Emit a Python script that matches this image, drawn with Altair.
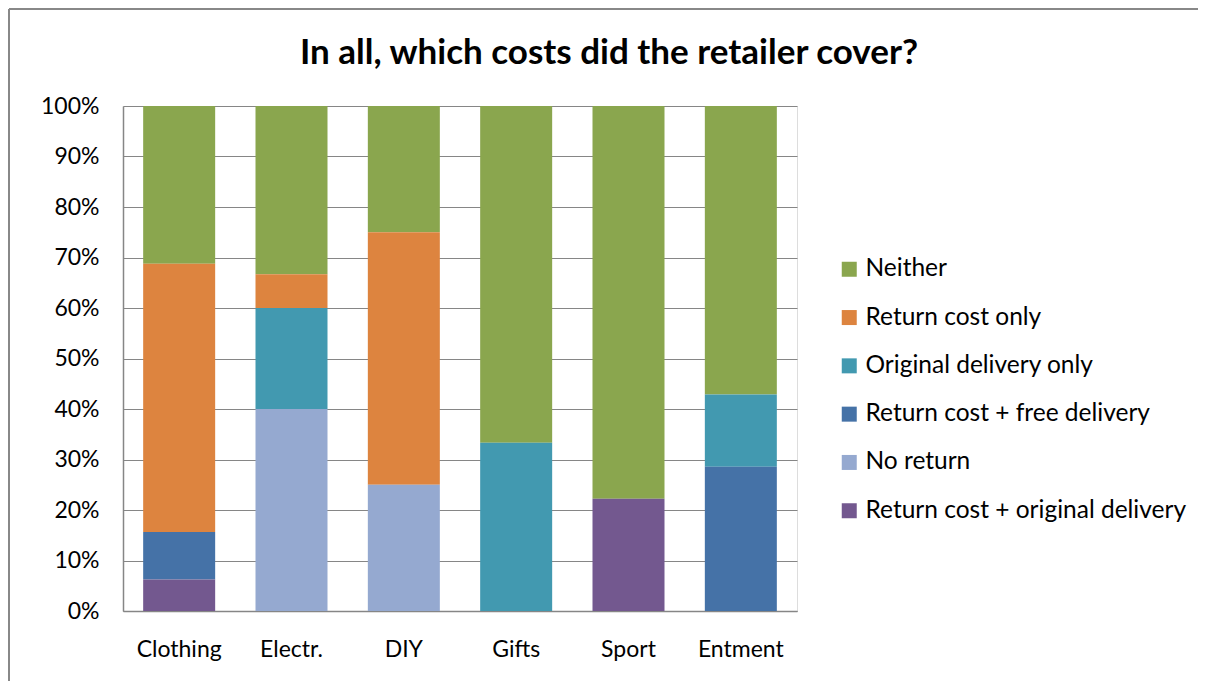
import altair as alt
import pandas as pd

categories = ["Clothing", "Electr.", "DIY", "Gifts", "Sport", "Entment"]

series_names = [
    "Neither",
    "Return cost only",
    "Original delivery only",
    "Return cost + free delivery",
    "No return",
    "Return cost + original delivery",
]
series_colors = ["#8AA64E", "#DD843F", "#4299B0", "#4572A7", "#95A9D0", "#73588F"]

# percentages per category
neither = [31.25, 33.33, 25.0, 66.67, 77.78, 57.14]
return_only = [53.125, 6.67, 50.0, 0, 0, 0]
orig_only = [0, 20.0, 0, 33.33, 0, 14.29]
return_free = [9.375, 0, 0, 0, 0, 28.57]
no_return = [0, 40.0, 25.0, 0, 0, 0]
return_orig = [6.25, 0, 0, 0, 22.22, 0]

series_values = [neither, return_only, orig_only, return_free, no_return, return_orig]

rows = []
for si, (name, vals) in enumerate(zip(series_names, series_values)):
    for ci, cat in enumerate(categories):
        if vals[ci] > 0:
            rows.append({
                "category": cat,
                "series": name,
                "value": vals[ci] / 100.0,
                "stack_order": len(series_names) - 1 - si,
            })
df = pd.DataFrame(rows)

FONT = "Lato"

bars = alt.Chart(df).mark_bar(size=72).encode(
    x=alt.X("category:N", sort=categories, title=None,
            scale=alt.Scale(paddingInner=0.36, paddingOuter=0.18),
            axis=alt.Axis(labelAngle=0, labelFontSize=23, labelFont=FONT,
                          labelColor="#000000", labelPadding=27, ticks=False,
                          domainColor="#868686", domainWidth=1.5, grid=False)),
    y=alt.Y("value:Q", stack="zero", title=None,
            scale=alt.Scale(domain=[0, 1]),
            axis=alt.Axis(format=".0%", values=[i / 10 for i in range(11)],
                          labelFontSize=23, labelFont=FONT, labelColor="#000000",
                          labelPadding=24, ticks=False, domainColor="#868686",
                          domainWidth=1.5, gridColor="#868686", gridWidth=1.2)),
    color=alt.Color("series:N", scale=alt.Scale(domain=series_names, range=series_colors),
                    legend=alt.Legend(title=None, orient="none", legendX=714, legendY=151,
                                      symbolType="square", symbolSize=225,
                                      symbolStrokeWidth=0, labelFontSize=24.5,
                                      labelFont=FONT, labelColor="#000000",
                                      labelOffset=4, labelLimit=500,
                                      rowPadding=23.3, padding=0)),
    order=alt.Order("stack_order:Q", sort="ascending"),
)

blank = alt.Data(values=[{"t": "In all, which costs did the retailer cover?"}])

title = alt.Chart(blank).mark_text(
    font=FONT, fontSize=35, fontWeight="bold", color="#000000",
    align="center", baseline="middle"
).encode(text="t:N", x=alt.value(486), y=alt.value(-53))

border_top = alt.Chart(blank).mark_rule(color="#888888", strokeWidth=2).encode(
    x=alt.value(-114), x2=alt.value(1100), y=alt.value(-97))
border_left = alt.Chart(blank).mark_rule(color="#888888", strokeWidth=2).encode(
    x=alt.value(-114), y=alt.value(-97), y2=alt.value(700))

chart = alt.layer(bars, title, border_top, border_left).properties(
    width=674, height=505,
    autosize=alt.AutoSizeParams(type="none"),
    padding={"left": 115, "top": 98, "right": 401, "bottom": 70},
).configure_view(strokeWidth=0, stroke="transparent").configure(font=FONT, background="#ffffff")

chart.save("out.html", embed_options={"renderer": "svg", "actions": False})
